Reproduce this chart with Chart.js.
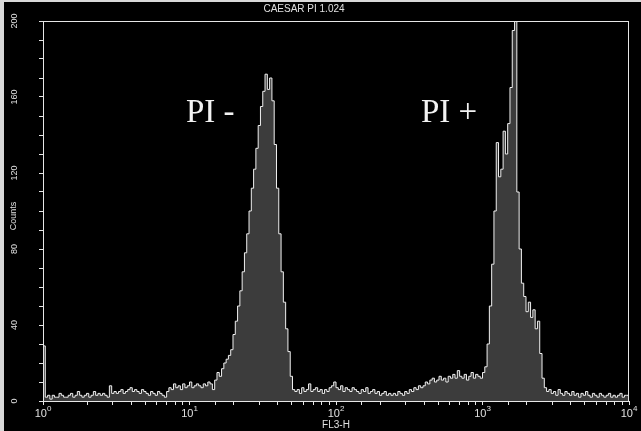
<!DOCTYPE html>
<html>
<head>
<meta charset="utf-8">
<script src="https://cdn.jsdelivr.net/npm/chart.js@4/dist/chart.umd.min.js"></script>
<style>
  body { margin: 0; background: #000; }
  canvas { display: block; }
</style>
</head>
<body>
<canvas id="histo" width="641" height="431"></canvas>
<script>
// FL3-H histogram, 64 bins per decade from 10^0 to 10^4
var binsPerDecade = 64;
var counts = [
  29,
  2,3,1,3,2,2,4,3,2,2,3,4,2,3,5,3,2,3,4,2,3,5,3,4,3,4,3,2,8,
  4,5,4,5,6,4,5,6,7,5,6,5,4,6,5,4,3,5,4,3,5,4,
  3,2,5,7,6,9,7,8,6,9,7,8,10,7,8,9,8,7,9,8,10,9,6,11,
  15,13,17,
  20,22,24,27,35,42,50,58,68,78,88,100,112,122,133,145,155,163,172,164,170,158,135,112,88,68,52,38,26,13,6,5,
  6,4,7,5,6,9,5,6,7,5,6,4,6,5,7,8,10,7,6,8,5,7,6,5,7,6,5,4,6,5,7,4,5,6,4,5,3,4,5,3,4,3,
  4,3,5,4,3,5,4,6,5,7,6,8,7,8,
  10,9,11,12,10,11,13,11,12,10,13,12,14,12,16,13,12,14,11,13,15,12,14,13,12,15,
  18,30,50,72,100,136,118,122,142,130,146,165,195,215,110,80,62,55,47,52,44,48,38,42,25,12,7,5,
  6,4,5,3,6,4,3,5,4,3,5,3,4,2,4,3,5,3,2,4,3,2,4,3,2,3,4,2,3,2,3,4,2,3,3
];
var decadeExps = ['0','1','2','3','4'];
var yLabels = [0, 40, 80, 120, 160, 200];
var titleText = 'CAESAR PI 1.024';
var xTitle = 'FL3-H';
var yTitle = 'Counts';
var peakLabels = [
  {text: 'PI -', x: 186, y: 122},
  {text: 'PI +', x: 421, y: 122}
];

var points = [];
for (var i = 0; i < counts.length; i++) {
  points.push({x: Math.pow(10, i / binsPerDecade), y: counts[i]});
}
points.push({x: 10000, y: counts[counts.length - 1]});

var decor = {
  id: 'decor',
  beforeDraw: function(chart) {
    var ctx = chart.ctx;
    ctx.save();
    ctx.fillStyle = '#d9d9d9';
    ctx.fillRect(0, 0, chart.width, chart.height);
    ctx.fillStyle = '#000';
    ctx.fillRect(4, 2, chart.width - 4, chart.height - 2);
    ctx.restore();
  },
  afterDatasetsDraw: function(chart) {
    var ctx = chart.ctx, a = chart.chartArea;
    ctx.save();
    ctx.strokeStyle = '#e6e6e6';
    ctx.lineWidth = 1;
    ctx.strokeRect(a.left + 0.5, a.top + 0.5, a.right - a.left - 1, a.bottom - a.top);
    ctx.restore();
  },
  afterDraw: function(chart) {
    var ctx = chart.ctx;
    var xs = chart.scales.x, ys = chart.scales.y;
    ctx.save();
    ctx.fillStyle = '#e0e0e0';
    ctx.textBaseline = 'alphabetic';

    // title
    ctx.font = '10px "Liberation Sans", Arial, sans-serif';
    ctx.textAlign = 'center';
    ctx.fillText(titleText, 304, 12);

    // x tick labels 10^k
    for (var k = 0; k < decadeExps.length; k++) {
      var px = xs.getPixelForValue(Math.pow(10, k));
      ctx.font = '11px "Liberation Sans", Arial, sans-serif';
      var w1 = ctx.measureText('10').width;
      ctx.font = '8px "Liberation Sans", Arial, sans-serif';
      var w2 = ctx.measureText(decadeExps[k]).width;
      var x0 = px - (w1 + w2) / 2;
      ctx.textAlign = 'left';
      ctx.font = '11px "Liberation Sans", Arial, sans-serif';
      ctx.fillText('10', x0, 417);
      ctx.font = '8px "Liberation Sans", Arial, sans-serif';
      ctx.fillText(decadeExps[k], x0 + w1, 411);
    }

    // x title
    ctx.font = '10px "Liberation Sans", Arial, sans-serif';
    ctx.textAlign = 'center';
    ctx.fillText(xTitle, (xs.left + xs.right) / 2, 428);

    // y tick labels, rotated
    ctx.font = '9px "Liberation Sans", Arial, sans-serif';
    ctx.textAlign = 'center';
    ctx.textBaseline = 'middle';
    for (var j = 0; j < yLabels.length; j++) {
      var py = ys.getPixelForValue(yLabels[j]);
      ctx.save();
      ctx.translate(15, py);
      ctx.rotate(-Math.PI / 2);
      ctx.fillText(String(yLabels[j]), 0, 0);
      ctx.restore();
    }

    // y title
    ctx.save();
    ctx.translate(14, 216);
    ctx.rotate(-Math.PI / 2);
    ctx.fillText(yTitle, 0, 0);
    ctx.restore();

    // peak annotations
    ctx.textBaseline = 'alphabetic';
    ctx.textAlign = 'left';
    ctx.fillStyle = '#f2f2f2';
    ctx.font = '33px "Liberation Serif", "Times New Roman", serif';
    peakLabels.forEach(function(p) { ctx.fillText(p.text, p.x, p.y); });
    ctx.restore();
  }
};

new Chart(document.getElementById('histo'), {
  type: 'line',
  data: {
    datasets: [{
      data: points,
      stepped: true,
      fill: 'origin',
      backgroundColor: '#3c3c3c',
      borderColor: '#f0f0f0',
      borderWidth: 1,
      pointRadius: 0
    }]
  },
  options: {
    responsive: false,
    animation: false,
    devicePixelRatio: 1,
    layout: { padding: { top: 21, right: 12, left: 0, bottom: 0 } },
    plugins: { legend: { display: false }, title: { display: false }, tooltip: { enabled: false } },
    scales: {
      x: {
        type: 'logarithmic',
        min: 1,
        max: 10000,
        ticks: { display: false },
        border: { display: false },
        grid: { drawOnChartArea: false, drawTicks: true, tickLength: 4, color: '#e6e6e6' },
        afterFit: function(scale) { scale.height = 30; }
      },
      y: {
        min: 0,
        max: 200,
        ticks: { display: false, stepSize: 10 },
        border: { display: false },
        grid: { drawOnChartArea: false, drawTicks: true, tickLength: 4, color: '#e6e6e6' },
        afterFit: function(scale) { scale.width = 43; }
      }
    }
  },
  plugins: [decor]
});
</script>
</body>
</html>
